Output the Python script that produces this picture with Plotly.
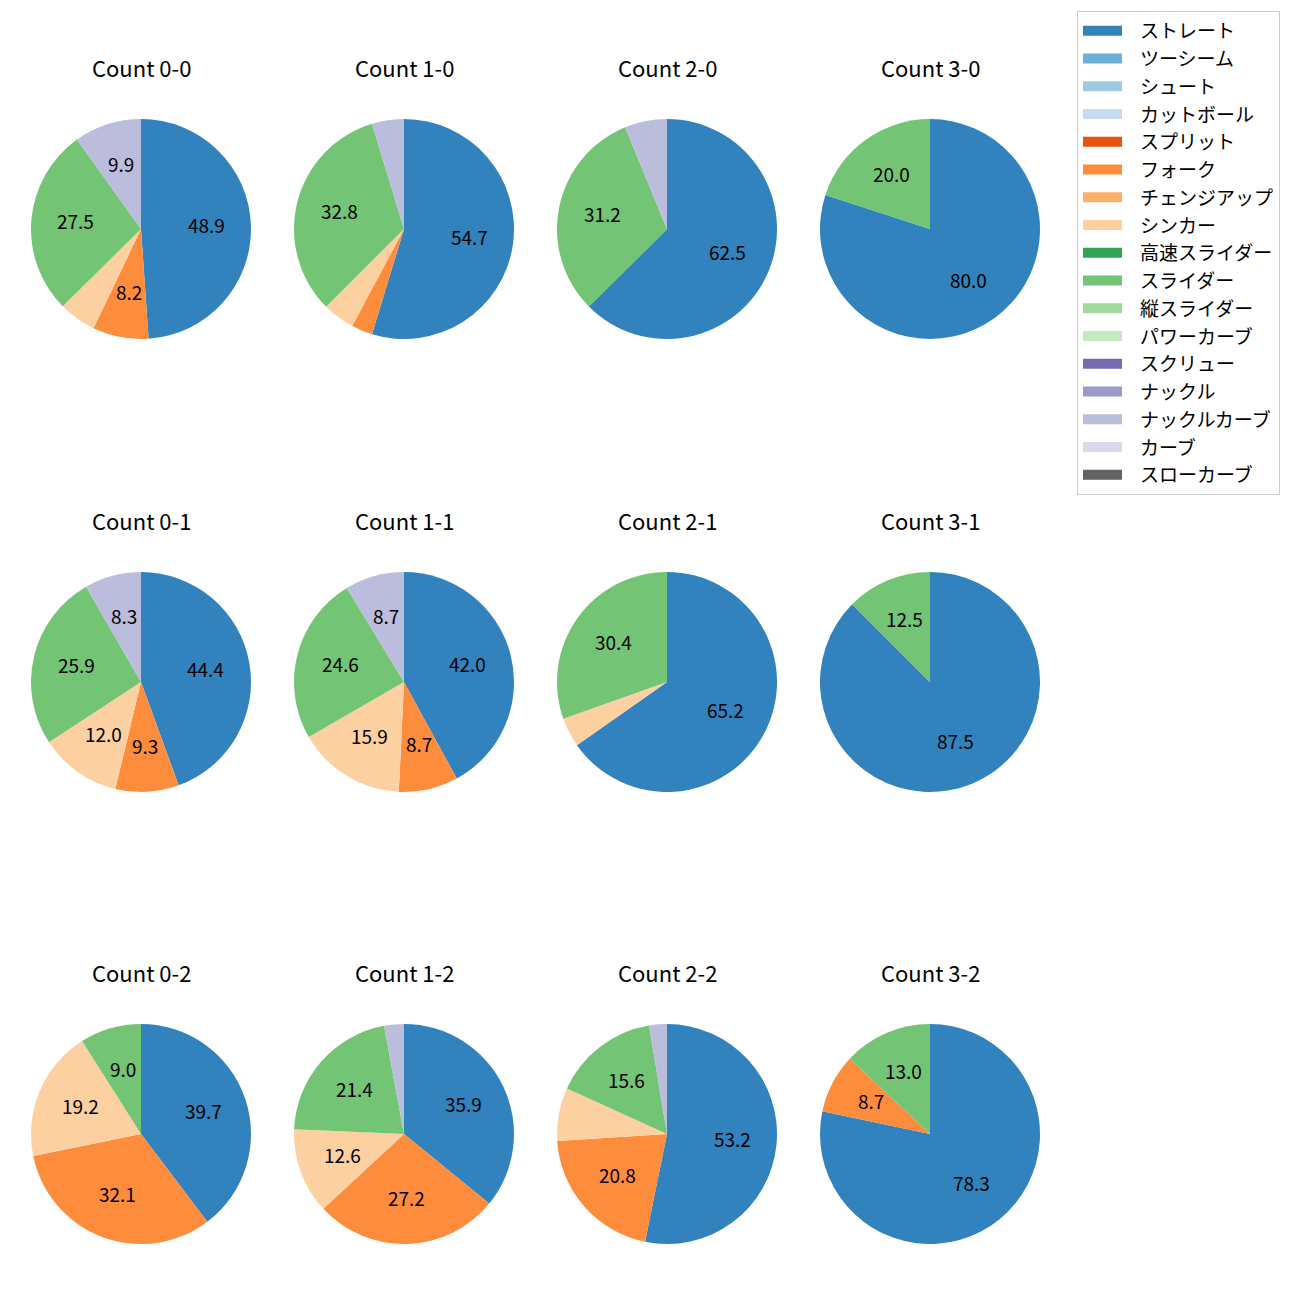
import math
import plotly.graph_objects as go

pitch_types = ["ストレート", "ツーシーム", "シュート", "カットボール", "スプリット", "フォーク",
               "チェンジアップ", "シンカー", "高速スライダー", "スライダー", "縦スライダー",
               "パワーカーブ", "スクリュー", "ナックル", "ナックルカーブ", "カーブ", "スローカーブ"]
pitch_colors = ["#3182bd", "#6baed6", "#9ecae1", "#c6dbef", "#e6550d", "#fd8d3c",
                "#fdae6b", "#fdd0a2", "#31a354", "#74c476", "#a1d99b", "#c7e9c0",
                "#756bb1", "#9e9ac8", "#bcbddc", "#dadaeb", "#636363"]

# percentages per count, in pitch_types order
c00 = [48.9, 0, 0, 0, 0, 8.2, 0, 5.5, 0, 27.5, 0, 0, 0, 0, 9.9, 0, 0]
c10 = [54.7, 0, 0, 0, 0, 3.1, 0, 4.7, 0, 32.8, 0, 0, 0, 0, 4.7, 0, 0]
c20 = [62.5, 0, 0, 0, 0, 0, 0, 0, 0, 31.2, 0, 0, 0, 0, 6.2, 0, 0]
c30 = [80.0, 0, 0, 0, 0, 0, 0, 0, 0, 20.0, 0, 0, 0, 0, 0, 0, 0]
c01 = [44.4, 0, 0, 0, 0, 9.3, 0, 12.0, 0, 25.9, 0, 0, 0, 0, 8.3, 0, 0]
c11 = [42.0, 0, 0, 0, 0, 8.7, 0, 15.9, 0, 24.6, 0, 0, 0, 0, 8.7, 0, 0]
c21 = [65.2, 0, 0, 0, 0, 0, 0, 4.3, 0, 30.4, 0, 0, 0, 0, 0, 0, 0]
c31 = [87.5, 0, 0, 0, 0, 0, 0, 0, 0, 12.5, 0, 0, 0, 0, 0, 0, 0]
c02 = [39.7, 0, 0, 0, 0, 32.1, 0, 19.2, 0, 9.0, 0, 0, 0, 0, 0, 0, 0]
c12 = [35.9, 0, 0, 0, 0, 27.2, 0, 12.6, 0, 21.4, 0, 0, 0, 0, 2.9, 0, 0]
c22 = [53.2, 0, 0, 0, 0, 20.8, 0, 7.8, 0, 15.6, 0, 0, 0, 0, 2.6, 0, 0]
c32 = [78.3, 0, 0, 0, 0, 8.7, 0, 0, 0, 13.0, 0, 0, 0, 0, 0, 0, 0]

grid = [[("Count 0-0", c00), ("Count 1-0", c10), ("Count 2-0", c20), ("Count 3-0", c30)],
        [("Count 0-1", c01), ("Count 1-1", c11), ("Count 2-1", c21), ("Count 3-1", c31)],
        [("Count 0-2", c02), ("Count 1-2", c12), ("Count 2-2", c22), ("Count 3-2", c32)]]

W = H = 1300
OFF = 8  # page body margin
col_x = [141 - OFF, 404 - OFF, 667 - OFF, 930 - OFF]
row_y = [229 - OFF, 682 - OFF, 1134 - OFF]
R = 110
title_dy = 162
text_lift = 2.5
LABEL_MIN = 8.0
FONT = "Noto Sans CJK JP"

fig = go.Figure()
annotations = []
for ri, row in enumerate(grid):
    for ci, (title, vals) in enumerate(row):
        labels = [p for p, v in zip(pitch_types, vals) if v > 0]
        values = [v for v in vals if v > 0]
        colors = [c for c, v in zip(pitch_colors, vals) if v > 0]
        cx, cy = col_x[ci], row_y[ri]
        fig.add_trace(go.Pie(
            labels=labels, values=values, sort=False, direction="clockwise", rotation=0,
            marker=dict(colors=colors, line=dict(width=0)),
            textinfo="none",
            domain=dict(x=[(cx - R) / W, (cx + R) / W], y=[1 - (cy + R) / H, 1 - (cy - R) / H]),
            showlegend=False, hoverinfo="label+percent",
        ))
        total = sum(values)
        cum = 0.0
        for v in values:
            mid = (cum + v / 2) / total
            cum += v
            if v >= LABEL_MIN:
                ang = 2 * math.pi * mid
                px = cx + 0.6 * R * math.sin(ang)
                py = cy - 0.6 * R * math.cos(ang) - text_lift
                annotations.append(dict(
                    text=f"{v:.1f}", x=px / W, y=1 - py / H, xref="paper", yref="paper",
                    xanchor="center", yanchor="middle", showarrow=False,
                    font=dict(size=19, color="black", family=FONT)))
        annotations.append(dict(
            text=title, x=cx / W, y=1 - (cy - title_dy) / H, xref="paper", yref="paper",
            xanchor="center", yanchor="middle", showarrow=False,
            font=dict(size=22, color="black", family=FONT)))

for p, c in zip(pitch_types, pitch_colors):
    fig.add_trace(go.Scatter(x=[None], y=[None], mode="lines", name=p, legendgroup=p,
                             line=dict(color=c, width=13, dash="39px,200px"),
                             showlegend=True, hoverinfo="skip"))

fig.update_layout(
    width=W, height=H, margin=dict(l=0, r=0, t=0, b=0),
    paper_bgcolor="white", plot_bgcolor="white",
    xaxis=dict(visible=False), yaxis=dict(visible=False),
    annotations=annotations,
    font=dict(family=FONT, size=19, color="black"),
    legend=dict(x=(1077 - OFF) / W, y=1 - (11 - OFF) / H, xanchor="left", yanchor="top",
                bordercolor="#cccccc", borderwidth=1, bgcolor="white",
                font=dict(size=19, family=FONT, color="black"),
                tracegroupgap=0.05, traceorder="grouped", itemwidth=52),
)
fig.write_html("out.html")
